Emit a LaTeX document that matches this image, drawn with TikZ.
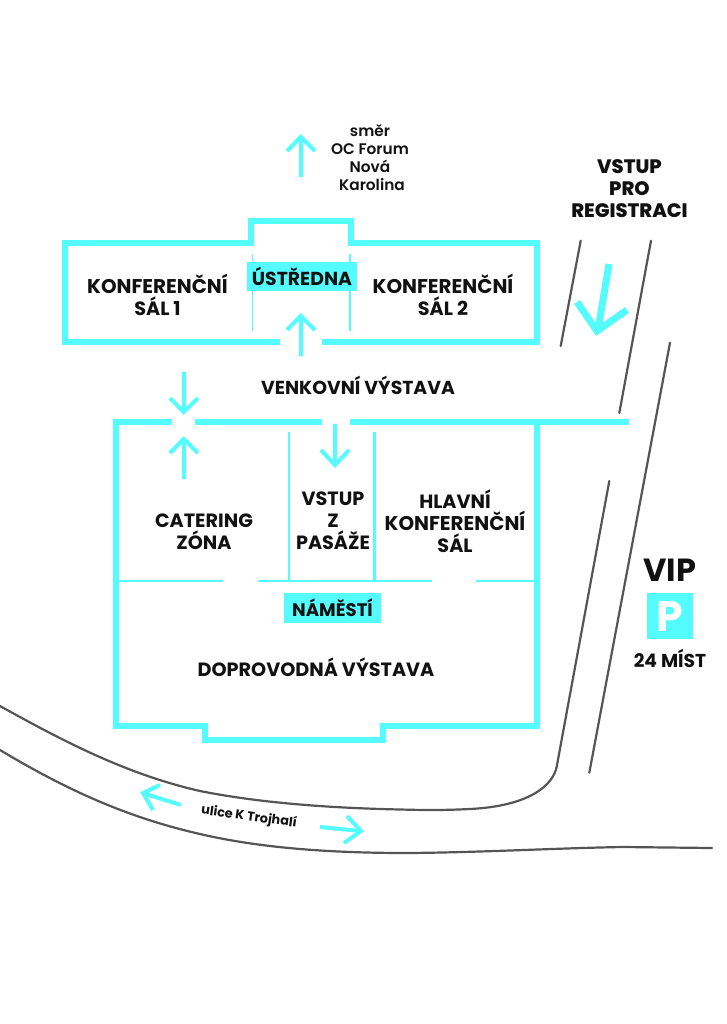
\documentclass[tikz,border=0pt]{standalone}
\usepackage{fontspec}
\setmainfont{Poppins}
\newfontfamily\semi{Poppins}[UprightFont=* SemiBold,BoldFont=* Bold]
\newfontfamily\xbold{Poppins}[UprightFont=* ExtraBold]
\definecolor{cy}{HTML}{55FCFF}
\definecolor{ink}{HTML}{111111}
\definecolor{road}{HTML}{555555}
\tikzset{
  px/.style={line width=#1*0.75pt},
  wall/.style={draw=cy,px=6,line join=miter,line cap=butt},
  thinwall/.style={draw=cy,px=2.5},
  hair/.style={draw=cy,px=1.6},
  arrowline/.style={draw=cy,px=4,line join=miter},
  bigarrow/.style={draw=cy,px=7,line join=miter},
  roadline/.style={draw=road,px=2.2,line cap=round,line join=round},
  lab/.style={text=ink,align=center,inner sep=0pt,font=\bfseries\fontsize{14.4}{16.5}\selectfont},
  small/.style={text=ink,align=center,inner sep=0pt,font=\semi\fontsize{11.5}{13.5}\selectfont},
  tag/.style={fill=cy,inner sep=0pt,anchor=north west},
}
\newcommand{\wide}[1]{{\fontsize{14.9}{16.5}\selectfont #1}}
\begin{document}
\begin{tikzpicture}[x=0.75pt,y=-0.75pt]
\useasboundingbox (0,0) rectangle (726,1024);
% roads
\draw[roadline] (580.7,240.7) -- (560.7,346);
\draw[roadline] (651,240.7) -- (619.3,413);
\draw[roadline] (670,342.7) -- (589.3,772.7);
\draw[roadline] (609.3,481) -- (556.7,766.7) .. controls (553,785) and (530,806) .. (470,809)
  .. controls (440,810.5) and (420,810) .. (400,809.5)
  .. controls (330,808) and (260,803) .. (200,791) .. controls (130,775) and (70,745) .. (0,706);
\draw[roadline] (0,750) .. controls (70,792) and (130,818) .. (200,834)
  .. controls (260,848) and (330,853) .. (407,853) .. controls (480,852.5) and (560,848) .. (623,847) -- (712,848);
% upper hall
\draw[wall] (280,342) -- (65,342) -- (65,243) -- (251,243) -- (251,221) -- (351,221) -- (351,243) -- (537,243) -- (537,342) -- (322,342);
\draw[hair] (252.3,254) -- (252.3,331);
\draw[hair] (349.7,254) -- (349.7,331);
% lower hall
\draw[wall] (172,422) -- (116,422) -- (116,726) -- (205,726) -- (205,740) -- (383,740) -- (383,726) -- (537,726) -- (537,422);
\draw[wall] (195,422) -- (322,422);
\draw[wall] (350,422) -- (629,422);
\draw[thinwall] (289,432) -- (289,581);
\draw[thinwall] (374.7,432) -- (374.7,581);
\draw[thinwall] (119,581) -- (223,581);
\draw[thinwall] (258,581) -- (432,581);
\draw[thinwall] (476,581) -- (534,581);
% arrows
\draw[arrowline] (300.7,177) -- (300.7,138);
\draw[arrowline] (287,151) -- (300.7,137) -- (315,151);
\draw[arrowline] (300.7,356) -- (300.7,316);
\draw[arrowline] (287,330) -- (300.7,316) -- (315,330);
\draw[arrowline] (183.7,372) -- (183.7,411);
\draw[arrowline] (170,398) -- (183.7,412) -- (198,398);
\draw[arrowline] (183.7,479) -- (183.7,439);
\draw[arrowline] (170,453) -- (183.7,439) -- (198,453);
\draw[arrowline] (335,424) -- (335,464);
\draw[arrowline] (321,450) -- (335,465) -- (349,450);
\draw[bigarrow] (609,264) -- (598,330);
\draw[bigarrow] (577,302) -- (597,331) -- (627,310);
\draw[arrowline] (181,805) -- (144,793.5);
\draw[arrowline] (160,785) -- (143,793) -- (153,810);
\draw[arrowline] (320,827) -- (360,831);
\draw[arrowline] (347,816) -- (361,831) -- (344,843);
% tags
\node[tag,minimum width=110*0.75pt,minimum height=29*0.75pt] (ustr) at (247,262) {};
\node[tag,minimum width=97*0.75pt,minimum height=30*0.75pt] (nam) at (284,593) {};
\node[tag,minimum width=46*0.75pt,minimum height=46*0.75pt] (park) at (647,593) {};
% labels
\node[lab,font=\bfseries\fontsize{14.1}{16.5}\selectfont] (tustr) at (302,276) {ÚSTŘEDNA};
\node[lab,font=\bfseries\fontsize{13.6}{16.5}\selectfont] (tnam) at (332.5,608) {NÁMĚSTÍ};
\node[lab] (k1) at (157.5,295) {\wide{KONFERENČNÍ}\\SÁL 1};
\node[lab] (k2) at (443,295) {\wide{KONFERENČNÍ}\\SÁL 2};
\node[lab,font=\bfseries\fontsize{14.1}{16.5}\selectfont] (venk) at (358,385) {VENKOVNÍ VÝSTAVA};
\node[lab] (cat) at (204,532) {CATERING\\ZÓNA};
\node[lab] (pas) at (333,521) {VSTUP\\Z\\PASÁŽE};
\node[lab] (hl) at (455,521) {HLAVNÍ\\\wide{KONFERENČNÍ}\\SÁL};
\node[lab] (dop) at (316,667) {DOPROVODNÁ VÝSTAVA};
\node[small] (sm1) at (370,157.5) {směr\\OC Forum\\Nová\\\hspace*{3pt}Karolina};
\node[lab,font=\xbold\fontsize{14.6}{16.5}\selectfont] (reg) at (629.5,188.5) {VSTUP\\PRO\\REGISTRACI};
\node[lab,font=\bfseries\fontsize{24}{26}\selectfont] (vip) at (670,570.5) {VIP};
\node[lab,text=white,font=\bfseries\fontsize{32}{34}\selectfont] (pp) at (670,617) {P};
\node[lab,font=\bfseries\fontsize{14}{16}\selectfont] (mist) at (670,658.5) {24 MÍST};
\node[small,rotate=-8,font=\bfseries\fontsize{9.6}{11}\selectfont] (ul) at (249,817) {ulice K Trojhalí};
\end{tikzpicture}
\end{document}
